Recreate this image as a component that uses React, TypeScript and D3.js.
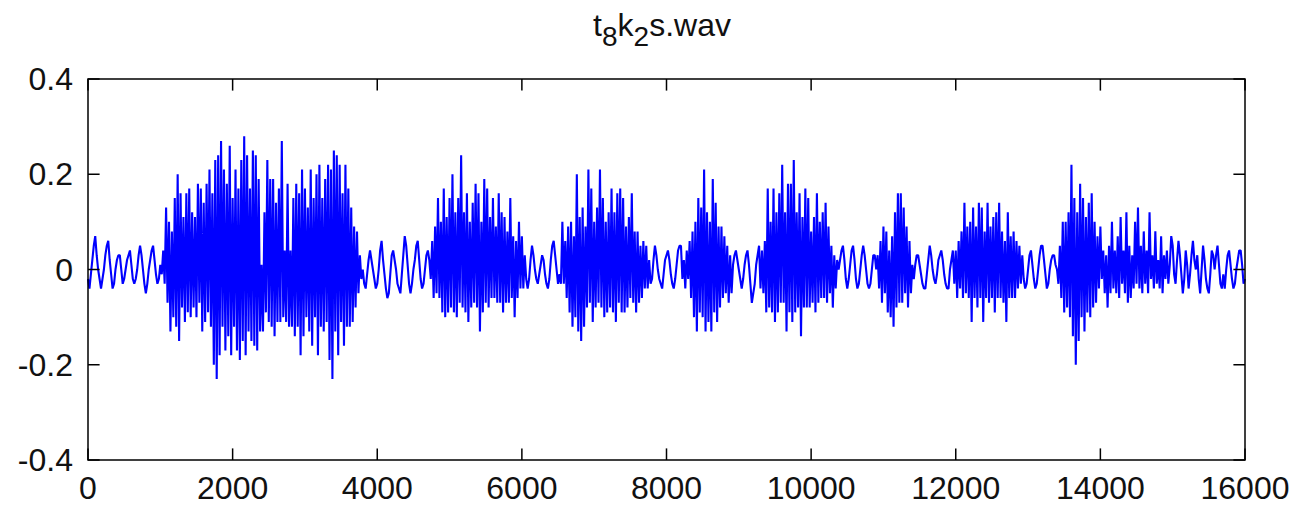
import React from "react";
import * as d3 from "d3";

// Waveform: one value every SAMPLE_STEP samples, in hundredths.
const SAMPLE_STEP = 20;
const VALUE_SCALE = 0.01;
const wave: number[] = [
  -2,-4,-1,2,5,7,3,0,-2,-4,
  -2,0,3,5,6,2,-1,-4,-3,0,
  2,3,3,0,-3,-2,0,2,3,4,
  1,-2,-3,-2,0,3,5,3,0,-3,
  -5,-3,0,2,4,5,2,-1,-3,-2,
  1,-1,4,-3,13,-7,10,-13,8,-10,
  15,-12,20,-15,16,-8,11,-11,16,-9,
  17,-10,12,-8,11,-10,18,-7,17,-13,
  14,-11,18,-9,21,-12,16,-20,23,-23,
  24,-18,27,-12,21,-17,18,-14,26,-18,
  15,-12,21,-17,17,-19,23,-15,28,-18,
  24,-13,17,-15,25,-16,24,-17,19,-13,
  1,-13,12,-9,23,-11,19,-12,19,-14,
  14,-11,17,-11,27,-10,4,-11,18,-12,
  4,-12,15,-14,18,-12,16,-18,21,-14,
  17,-10,13,-13,21,-16,15,-10,20,-18,
  22,-12,15,-13,19,-11,22,-19,21,-23,
  25,-13,24,-18,22,-11,16,-16,22,-12,
  17,-12,13,-11,9,-8,8,-5,3,-2,
  0,-3,-4,-1,2,4,2,0,-2,-4,
  -3,0,4,6,2,-1,-4,-6,-5,-1,
  3,4,2,0,-3,-4,-5,-1,3,7,
  5,1,-3,-5,-3,0,2,5,6,2,
  -2,-4,-3,0,3,4,2,-2,6,-6,
  9,-5,15,-6,10,-9,17,-10,11,-9,
  15,-8,20,-9,12,-10,15,-7,24,-8,
  12,-9,16,-11,10,-8,14,-7,18,-8,
  16,-13,10,-9,19,-7,17,-8,11,-6,
  15,-6,9,-7,16,-7,12,-9,11,-7,
  8,-7,15,-6,7,-10,6,-6,10,-4,
  7,-4,3,-2,-4,-2,2,5,3,0,
  -2,-3,-1,1,3,2,-1,-3,-4,-2,
  2,5,6,3,0,-3,-1,-3,10,-3,
  6,-6,9,-9,10,-12,7,-10,20,-13,
  11,-15,13,-12,9,-8,21,-7,17,-11,
  10,-8,13,-7,21,-8,15,-10,10,-9,
  12,-8,17,-9,12,-11,16,-7,17,-9,
  15,-9,9,-8,11,-6,16,-7,8,-9,
  8,-7,5,-6,6,-4,5,-4,2,-3,
  -2,2,5,3,0,-2,-3,-4,-1,2,
  3,4,2,-1,-3,-4,-2,1,4,5,
  5,-2,2,-4,4,-2,6,-6,8,-10,
  10,-13,15,-9,13,-10,21,-13,12,-11,
  10,-13,19,-9,14,-11,9,-8,9,-6,
  7,-5,5,-7,3,-5,1,3,4,2,
  0,-2,-4,-2,1,3,4,1,-3,-7,
  -5,-3,1,3,5,-4,4,-5,6,-9,
  17,-8,10,-9,17,-11,12,-9,16,-7,
  22,-7,12,-13,18,-9,18,-11,23,-9,
  12,-8,16,-14,11,-8,17,-8,15,-8,
  8,-7,11,-9,16,-7,10,-6,12,-6,
  14,-7,9,-5,5,-8,3,-4,2,0,
  2,4,5,2,-2,-4,-2,1,4,5,
  2,-2,-4,-3,0,3,5,3,0,-3,
  -4,-3,0,3,3,0,3,-4,6,-7,
  9,-5,8,-9,4,-10,7,-12,12,-8,
  16,-7,16,-7,13,-5,9,-8,6,-5,
  1,-2,1,3,3,1,-1,-3,-4,-4,
  -1,2,5,3,0,-2,-3,-1,2,3,
  4,2,-1,-3,-4,-4,0,2,4,-3,
  4,-6,6,-4,8,-6,14,-5,9,-6,
  10,-11,13,-6,9,-8,14,-6,13,-11,
  8,-6,14,-7,9,-6,11,-9,12,-6,
  14,-6,8,-7,6,-11,12,-6,7,-6,
  8,-6,6,-4,5,-3,3,-2,-4,-3,
  0,3,4,1,-2,-4,-3,0,3,5,
  5,2,-1,-4,-3,0,2,3,3,1,
  0,-3,5,-6,10,-9,10,-8,12,-10,
  22,-14,15,-20,12,-15,18,-10,15,-13,
  11,-9,14,-10,16,-8,10,-7,7,-4,
  9,-2,4,-5,3,-8,5,-5,10,-4,
  4,-5,7,-6,11,-3,4,-5,12,-7,
  5,-6,3,-4,10,-3,13,-4,5,-5,
  8,-3,4,-5,12,-2,3,-4,8,-3,
  2,-4,7,-5,3,-2,4,-3,1,7,
  5,-1,-3,2,6,3,-1,-5,-2,4,
  1,-4,-1,3,6,2,0,3,-2,-5,
  0,5,2,-2,-4,-5,-1,4,3,0,
  3,5,1,-3,-4,-1,-4,0,3,4,
  1,-2,-4,-3,0,2,4,4,1,-3,
  -2,
];

const xDomain = [0, 16000];
const yDomain = [-0.4, 0.4];
const xTicks = [0, 2000, 4000, 6000, 8000, 10000, 12000, 14000, 16000];
const xTickLabels = ["0", "2000", "4000", "6000", "8000", "10000", "12000", "14000", "16000"];
const yTicks = [-0.4, -0.2, 0, 0.2, 0.4];
const yTickLabels = ["-0.4", "-0.2", "0", "0.2", "0.4"];
const titleParts = [
  { text: "t", sub: false },
  { text: "8", sub: true },
  { text: "k", sub: false },
  { text: "2", sub: true },
  { text: "s.wav", sub: false },
];

export default function App() {
  const W = 1297;
  const H = 507;
  const left = 88;
  const right = 1245;
  const top = 79;
  const bottom = 460;
  const tickLen = 11.6;
  const font = "'Liberation Sans', Arial, Helvetica, sans-serif";

  const x = d3.scaleLinear().domain(xDomain).range([left, right]);
  const y = d3.scaleLinear().domain(yDomain).range([bottom, top]);
  const line = d3
    .line<number>()
    .x((_, i) => x(i * SAMPLE_STEP))
    .y((d) => y(d * VALUE_SCALE));

  let prevSub = false;
  const subShift = 10;

  return (
    <svg
      width={W}
      height={H}
      style={{ position: "absolute", left: 0, top: 0, background: "#fff" }}
    >
      <rect x={0} y={0} width={W} height={H} fill="#fff" />
      <path d={line(wave) || ""} fill="none" stroke="#0000ff" strokeWidth={2.1} strokeLinejoin="bevel" />
      <rect x={left} y={top} width={right - left} height={bottom - top} fill="none" stroke="#000" strokeWidth={1.5} />
      {yTicks.map((t, i) => (
        <g key={"y" + i}>
          <line x1={left} x2={left + tickLen} y1={y(t)} y2={y(t)} stroke="#000" strokeWidth={1.5} />
          <line x1={right} x2={right - tickLen} y1={y(t)} y2={y(t)} stroke="#000" strokeWidth={1.5} />
          <text x={73} y={y(t) + 11} textAnchor="end" fontFamily={font} fontSize={32} fill="#111">
            {yTickLabels[i]}
          </text>
        </g>
      ))}
      {xTicks.map((t, i) => (
        <g key={"x" + i}>
          <line x1={x(t)} x2={x(t)} y1={bottom} y2={bottom - tickLen} stroke="#000" strokeWidth={1.5} />
          <line x1={x(t)} x2={x(t)} y1={top} y2={top + tickLen} stroke="#000" strokeWidth={1.5} />
          <text x={x(t)} y={499} textAnchor="middle" fontFamily={font} fontSize={32} fill="#111">
            {xTickLabels[i]}
          </text>
        </g>
      ))}
      <text x={662} y={36} textAnchor="middle" fontFamily={font} fontSize={32} fill="#111">
        {titleParts.map((p, i) => {
          let dy = 0;
          if (p.sub && !prevSub) dy = subShift;
          if (!p.sub && prevSub) dy = -subShift;
          prevSub = p.sub;
          return (
            <tspan key={i} dy={dy} fontSize={p.sub ? 28 : 32}>
              {p.text}
            </tspan>
          );
        })}
      </text>
    </svg>
  );
}
